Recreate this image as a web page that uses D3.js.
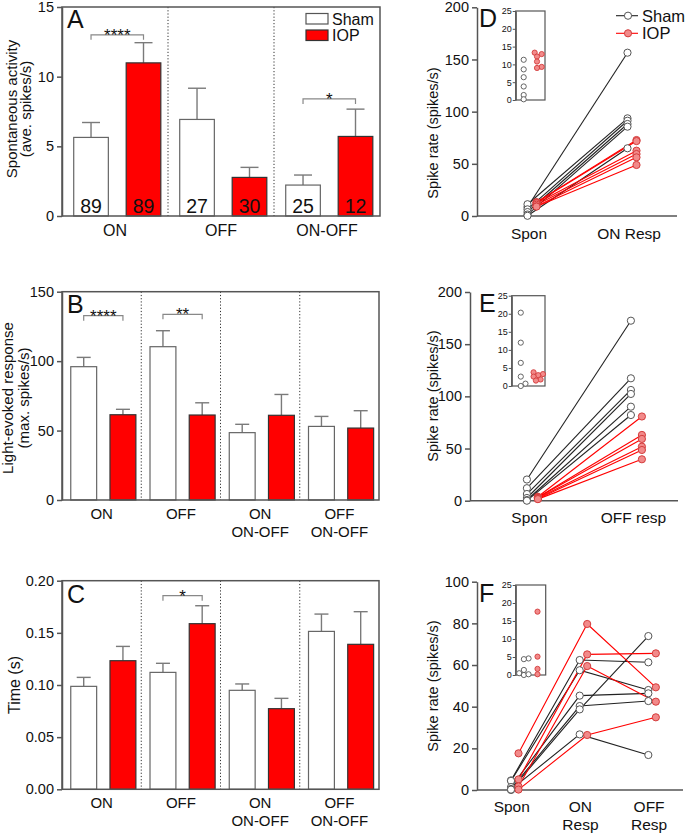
<!DOCTYPE html>
<html>
<head>
<meta charset="utf-8">
<script src="https://cdn.jsdelivr.net/npm/d3@7"></script>
<style>
  body { margin: 0; background: #fff; }
  text { font-family: Arial, "Liberation Sans", sans-serif; fill: #111; }
</style>
</head>
<body>
<svg id="fig" width="685" height="834"></svg>
<script>
// ---- data: bar panels (mean, SEM) ----
const groupsA = ["ON", "OFF", "ON-OFF"];
const shamA = [5.64, 6.93, 2.22];
const shamSemA = [1.07, 2.24, 0.72];
const iopA = [10.99, 2.77, 5.71];
const iopSemA = [1.45, 0.72, 1.96];
const shamNA = [89, 27, 25];
const iopNA = [89, 30, 12];
const sigA = [{g: 0, y: 13.0, label: "****"}, {g: 2, y: 8.4, label: "*"}];

const groupsBC = ["ON", "OFF", "ON\nON-OFF", "OFF\nON-OFF"];
const shamB = [96.0, 110.4, 48.5, 53.0];
const shamSemB = [6.7, 11.5, 6.0, 7.2];
const iopB = [61.4, 61.2, 61.0, 51.8];
const iopSemB = [3.9, 8.8, 15.0, 12.5];
const sigB = [{g: 0, y: 132.7, label: "****"}, {g: 1, y: 133.7, label: "**"}];

const shamC = [0.0987, 0.1121, 0.0949, 0.1514];
const shamSemC = [0.0086, 0.0087, 0.0061, 0.0166];
const iopC = [0.1233, 0.1588, 0.0773, 0.139];
const iopSemC = [0.0137, 0.0172, 0.0099, 0.0313];
const sigC = [{g: 1, y: 0.1856, label: "*"}];

// ---- data: paired cells (one row per cell) ----
const catsD = ["Spon", "ON Resp"];
const shamD = [[8.6, 156.5], [11.3, 93.6], [6.4, 91.3], [3.8, 88.2], [1.4, 85.6], [0.2, 64.9]];
const iopD = [[13.3, 72.8], [12.9, 71.8], [12.2, 62.6], [10.8, 59.4], [9.3, 56.2], [9.0, 48.9]];

const catsE = ["Spon", "OFF resp"];
const shamE = [[20.3, 172.5], [12.0, 117.3], [6.4, 106.1], [2.6, 102.3], [0.65, 90.1], [0.0, 82.1]];
const iopE = [[3.8, 80.7], [3.3, 63.0], [3.0, 59.2], [2.6, 51.8], [1.8, 48.6], [1.5, 39.7]];

const catsF = ["Spon", "ON\nResp", "OFF\nResp"];
const shamF = [[4.6, 62.4, 61.3], [4.4, 57.5, 48.0], [1.4, 45.3, 46.4], [0.5, 40.3, 42.7], [0.0, 38.7, 73.9], [0.2, 26.7, 16.8]];
const iopF = [[17.6, 79.7, 49.3], [5.1, 65.1, 65.6], [1.7, 59.5, 42.4], [0.2, 26.4, 34.9]];

const RED = "#ff0000", PINK = "#f28a8a", PINK_STROKE = "#d43c3c", AXIS = "#555";

const svg = d3.select("#fig");

function multiline(sel, str, lh) {
  str.split("\n").forEach((s, i) => {
    sel.append("tspan").attr("x", sel.attr("x")).attr("dy", i ? lh : 0).text(s);
  });
}

function style_axis(ax, fs) {
  ax.select(".domain").attr("stroke", AXIS).attr("stroke-width", 1.5);
  ax.selectAll(".tick line").attr("stroke", AXIS).attr("stroke-width", 1.5);
  ax.selectAll(".tick text").attr("font-size", fs).attr("fill", "#222")
    .attr("font-family", "Arial, 'Liberation Sans', sans-serif");
}

function bar_panel(o) {
  const g = svg.append("g");
  const y = d3.scaleLinear().domain([0, o.max]).range([o.bottom, o.top]);
  const gx = d3.scaleBand().domain(d3.range(o.groups.length)).range([o.left, o.right]);
  const ix = d3.scaleBand().domain(["Sham", "IOP"]).range([0, gx.bandwidth()])
    .paddingInner(0.34).paddingOuter(0.18).align(0.62);
  const cx = (i, k) => gx(i) + ix(k) + ix.bandwidth() / 2;

  const rows = o.groups.flatMap((c, i) => [
    {i: i, k: "Sham", v: o.sham[i], e: o.shamSem[i], n: o.shamN ? o.shamN[i] : null},
    {i: i, k: "IOP", v: o.iop[i], e: o.iopSem[i], n: o.iopN ? o.iopN[i] : null}
  ]);

  // dotted separators between groups
  g.selectAll("line.sep").data(d3.range(1, o.groups.length)).enter().append("line")
    .attr("x1", d => gx(d)).attr("x2", d => gx(d))
    .attr("y1", o.top).attr("y2", o.bottom)
    .attr("stroke", "#333").attr("stroke-width", 1).attr("stroke-dasharray", "1.2,2");

  // error bars (upper only)
  const eb = g.selectAll("g.err").data(rows).enter().append("g")
    .attr("stroke", "#7a7a7a").attr("stroke-width", 1.4);
  eb.append("line").attr("x1", d => cx(d.i, d.k)).attr("x2", d => cx(d.i, d.k))
    .attr("y1", d => y(d.v)).attr("y2", d => y(d.v + d.e));
  eb.append("line").attr("x1", d => cx(d.i, d.k) - o.cap).attr("x2", d => cx(d.i, d.k) + o.cap)
    .attr("y1", d => y(d.v + d.e)).attr("y2", d => y(d.v + d.e));

  // bars
  g.selectAll("rect.bar").data(rows).enter().append("rect")
    .attr("x", d => gx(d.i) + ix(d.k)).attr("width", ix.bandwidth())
    .attr("y", d => y(d.v)).attr("height", d => y(0) - y(d.v))
    .attr("fill", d => d.k === "IOP" ? RED : "#fff")
    .attr("stroke", d => d.k === "IOP" ? "#333" : "#666").attr("stroke-width", 1.2);

  // n inside bars
  if (o.shamN) {
    g.selectAll("text.n").data(rows).enter().append("text")
      .attr("x", d => cx(d.i, d.k)).attr("y", o.bottom - 3)
      .attr("text-anchor", "middle").attr("font-size", 19.5).text(d => d.n);
  }

  // significance brackets
  const sg = g.selectAll("g.sig").data(o.sig).enter().append("g");
  sg.append("path")
    .attr("d", d => `M${cx(d.g, "Sham")},${y(d.y) + 5}V${y(d.y)}H${cx(d.g, "IOP")}V${y(d.y) + 5}`)
    .attr("fill", "none").attr("stroke", "#888").attr("stroke-width", 1.2);
  sg.append("text").attr("x", d => (cx(d.g, "Sham") + cx(d.g, "IOP")) / 2)
    .attr("y", d => y(d.y) + 6).attr("text-anchor", "middle").attr("font-size", 17)
    .text(d => d.label);

  // frame + y axis
  g.append("rect").attr("x", o.left).attr("y", o.top)
    .attr("width", o.right - o.left).attr("height", o.bottom - o.top)
    .attr("fill", "none").attr("stroke", AXIS).attr("stroke-width", 1.5);
  const ax = g.append("g").attr("transform", `translate(${o.left},0)`)
    .call(d3.axisLeft(y).tickValues(o.ticks).tickSize(5).tickSizeOuter(0).tickFormat(o.fmt));
  style_axis(ax, 14.5);

  // category labels
  g.selectAll("text.cat").data(o.groups).enter().append("text")
    .attr("x", (d, i) => gx(i) + gx.bandwidth() / 2).attr("y", o.catY)
    .attr("text-anchor", "middle").attr("font-size", o.catSize)
    .each(function(d) { multiline(d3.select(this), d, 18); });

  // y title
  o.title.forEach((t, j) => {
    g.append("text").attr("transform", `translate(${o.titleX[j]},${o.titleY}) rotate(-90)`)
      .attr("text-anchor", "middle").attr("font-size", o.titleSize).text(t);
  });

  // panel letter
  g.append("text").attr("x", o.left + 5).attr("y", o.letterY)
    .attr("font-size", 25).text(o.letter);
  return {g: g, y: y};
}

function dodge(vals, y, cxp, r) {
  // simple swarm so that inset points do not sit on top of each other
  const placed = [];
  const order = vals.map((v, i) => i).sort((a, b) => vals[a] - vals[b]);
  const out = new Array(vals.length);
  order.forEach(i => {
    const py = y(vals[i]);
    let spot = null;
    for (const k of [0, 1, -1, 2, -2, 3, -3]) {
      const px = cxp + k * r * 0.9;
      if (placed.every(p => Math.hypot(p[0] - px, p[1] - py) > 1.6 * r)) { spot = [px, py]; break; }
    }
    if (!spot) spot = [cxp + (placed.length % 2 ? 1 : -1) * r, py];
    placed.push(spot); out[i] = spot;
  });
  return out;
}

function pair_panel(o) {
  const g = svg.append("g");
  const y = d3.scaleLinear().domain([0, o.max]).range([o.bottom, o.top]);
  const x = d3.scalePoint().domain(o.cats).range([o.left, o.right]).padding(0.5).align(o.align);

  // axes
  const ax = g.append("g").attr("transform", `translate(${o.left},0)`)
    .call(d3.axisLeft(y).tickValues(o.ticks).tickSize(5).tickSizeOuter(0));
  style_axis(ax, 14.5);
  g.append("line").attr("x1", o.left).attr("x2", o.right).attr("y1", o.bottom).attr("y2", o.bottom)
    .attr("stroke", AXIS).attr("stroke-width", 1.5);

  const line = off => d3.line().x((v, i) => x(o.cats[i]) + off).y(v => y(v));
  const sets = [
    {rows: o.sham, off: -o.off, stroke: "#222", fill: "#fff", cstroke: "#555"},
    {rows: o.iop, off: o.off, stroke: RED, fill: PINK, cstroke: PINK_STROKE}
  ];
  sets.forEach(s => {
    g.selectAll(null).data(s.rows).enter().append("path")
      .attr("d", line(s.off)).attr("fill", "none").attr("stroke", s.stroke).attr("stroke-width", 1.1);
  });
  sets.forEach(s => {
    const pts = s.rows.flatMap(r => r.map((v, i) => ({v: v, i: i})));
    g.selectAll(null).data(pts).enter().append("circle")
      .attr("cx", d => x(o.cats[d.i]) + s.off).attr("cy", d => y(d.v)).attr("r", 3.6)
      .attr("fill", s.fill).attr("stroke", s.cstroke).attr("stroke-width", 1);
  });

  // category labels
  g.selectAll("text.cat").data(o.cats).enter().append("text")
    .attr("x", d => x(d) - 3).attr("y", o.catY)
    .attr("text-anchor", "middle").attr("font-size", 15.5)
    .each(function(d) { multiline(d3.select(this), d, 18); });

  g.append("text").attr("transform", `translate(438,${o.titleY}) rotate(-90)`)
    .attr("text-anchor", "middle").attr("font-size", 14.5).text("Spike rate (spikes/s)");

  g.append("text").attr("x", 479).attr("y", o.letterY).attr("font-size", 25).text(o.letter);

  // inset: spontaneous rates only
  const ins = o.inset;
  const iy = d3.scaleLinear().domain([0, 25]).range([ins.bottom, ins.top]);
  const ixs = d3.scalePoint().domain(["Sham", "IOP"]).range([ins.left, ins.right]).padding(0.6);
  g.append("rect").attr("x", ins.left).attr("y", ins.top)
    .attr("width", ins.right - ins.left).attr("height", ins.bottom - ins.top)
    .attr("fill", "#fff").attr("stroke", AXIS).attr("stroke-width", 1.2);
  const iax = g.append("g").attr("transform", `translate(${ins.left},0)`)
    .call(d3.axisLeft(iy).tickValues([0, 5, 10, 15, 20, 25]).tickSize(3).tickPadding(1).tickSizeOuter(0));
  iax.select(".domain").attr("stroke", AXIS).attr("stroke-width", 1.2);
  iax.selectAll(".tick line").attr("stroke", AXIS);
  iax.selectAll(".tick text").attr("font-size", 9).attr("fill", "#444")
    .attr("font-family", "Arial, 'Liberation Sans', sans-serif");
  [["Sham", sets[0]], ["IOP", sets[1]]].forEach(([k, s]) => {
    const vals = s.rows.map(r => r[0]);
    const pos = dodge(vals, iy, ixs(k), 2.6);
    g.selectAll(null).data(pos).enter().append("circle")
      .attr("cx", d => d[0]).attr("cy", d => d[1]).attr("r", 2.6)
      .attr("fill", s.fill).attr("stroke", s.cstroke).attr("stroke-width", 0.9);
  });
  return g;
}

// ---- panels A-C ----
const A = bar_panel({
  left: 62, right: 380, top: 7, bottom: 216, max: 15, ticks: [0, 5, 10, 15], fmt: d3.format("d"),
  groups: groupsA, sham: shamA, shamSem: shamSemA, iop: iopA, iopSem: iopSemA,
  shamN: shamNA, iopN: iopNA, sig: sigA, cap: 9, catY: 236, catSize: 16,
  title: ["Spontaneous activity", "(ave. spikes/s)"], titleX: [17, 31], titleY: 109, titleSize: 15,
  letter: "A", letterY: 28
});
bar_panel({
  left: 62, right: 379, top: 291.7, bottom: 500, max: 150, ticks: [0, 50, 100, 150], fmt: d3.format("d"),
  groups: groupsBC, sham: shamB, shamSem: shamSemB, iop: iopB, iopSem: iopSemB,
  sig: sigB, cap: 7, catY: 519, catSize: 15,
  title: ["Light-evoked response", "(max. spikes/s)"], titleX: [13, 29], titleY: 398, titleSize: 15,
  letter: "B", letterY: 313
});
bar_panel({
  left: 62, right: 379, top: 580.7, bottom: 789.3, max: 0.2, ticks: [0, 0.05, 0.1, 0.15, 0.2], fmt: d3.format(".2f"),
  groups: groupsBC, sham: shamC, shamSem: shamSemC, iop: iopC, iopSem: iopSemC,
  sig: sigC, cap: 7, catY: 808, catSize: 15,
  title: ["Time (s)"], titleX: [20], titleY: 685, titleSize: 16,
  letter: "C", letterY: 603
});

// legend A
const lgA = A.g.append("g");
[["Sham", "#fff", "#555", 13.5], ["IOP", RED, "#333", 30]].forEach(([t, f, s, yy]) => {
  lgA.append("rect").attr("x", 306).attr("y", yy).attr("width", 22).attr("height", 10.5)
    .attr("fill", f).attr("stroke", s).attr("stroke-width", 1.2);
  lgA.append("text").attr("x", 332).attr("y", yy + 11).attr("font-size", 16).text(t);
});

// ---- panels D-F ----
const D = pair_panel({
  left: 477, right: 677, top: 7.3, bottom: 216, max: 200, ticks: [0, 50, 100, 150, 200],
  cats: catsD, sham: shamD, iop: iopD, off: 4.5, align: 0.55,
  catY: 239, titleY: 133, letter: "D", letterY: 27,
  inset: {left: 515.7, right: 545, top: 11, bottom: 100}
});
pair_panel({
  left: 470, right: 678, top: 292, bottom: 500.7, max: 200, ticks: [0, 50, 100, 150, 200],
  cats: catsE, sham: shamE, iop: iopE, off: 5.5, align: 0.6,
  catY: 523, titleY: 396, letter: "E", letterY: 312,
  inset: {left: 511.7, right: 545, top: 295.7, bottom: 386}
});
pair_panel({
  left: 477, right: 683, top: 581.7, bottom: 790, max: 100, ticks: [0, 20, 40, 60, 80, 100],
  cats: catsF, sham: shamF, iop: iopF, off: 3.75, align: 0.55,
  catY: 812, titleY: 686, letter: "F", letterY: 602,
  inset: {left: 515.7, right: 545.7, top: 585, bottom: 675}
});

// legend D
[["Sham", "#222", "#fff", "#555", 15.7], ["IOP", RED, PINK, PINK_STROKE, 33.3]].forEach(([t, ls, f, cs, yy]) => {
  D.append("line").attr("x1", 616).attr("x2", 638).attr("y1", yy).attr("y2", yy)
    .attr("stroke", ls).attr("stroke-width", 1.1);
  D.append("circle").attr("cx", 628).attr("cy", yy).attr("r", 3.6)
    .attr("fill", f).attr("stroke", cs).attr("stroke-width", 1);
  D.append("text").attr("x", 642).attr("y", yy + 6).attr("font-size", 16.5).text(t);
});
</script>
</body>
</html>
